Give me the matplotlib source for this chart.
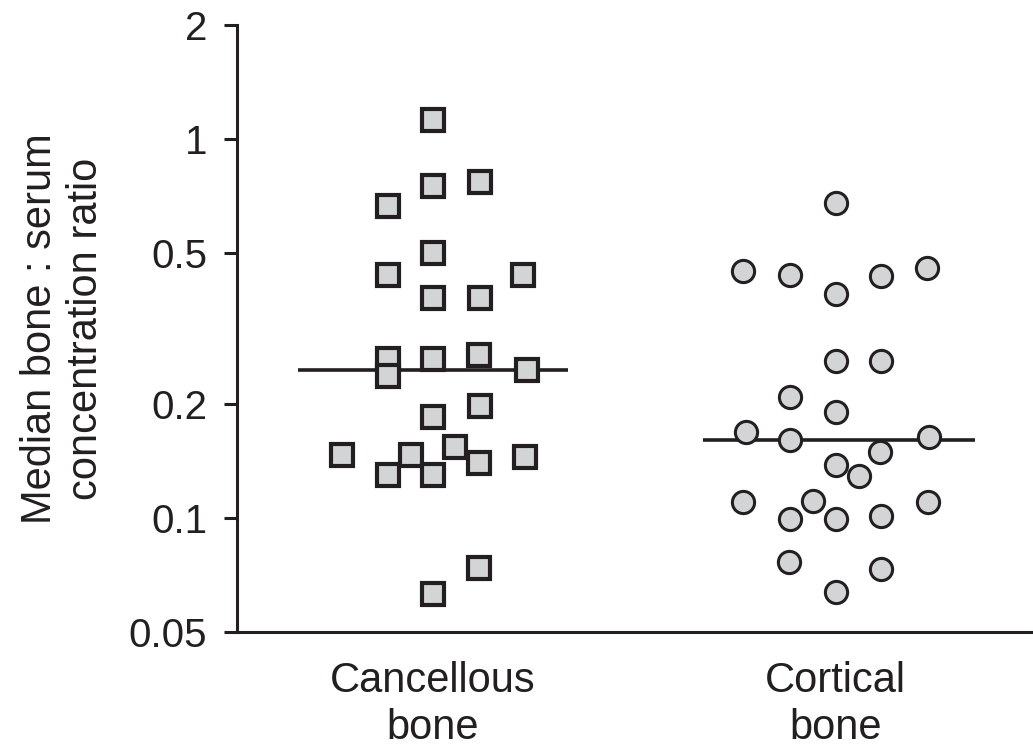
import numpy as np
import matplotlib
matplotlib.use("Agg")
import matplotlib.pyplot as plt
from matplotlib.ticker import NullLocator

plt.rcParams['font.family'] = ['Liberation Sans', 'DejaVu Sans']

# bone : serum ratios, one entry per specimen
cancellous_ratio = [1.12, 0.751, 0.770, 0.665, 0.501, 0.437, 0.437, 0.380, 0.380,
                    0.263, 0.237, 0.262, 0.269, 0.246, 0.185, 0.197,
                    0.147, 0.147, 0.154, 0.140, 0.145, 0.130, 0.130, 0.0739, 0.0631]
cancellous_jitter = [0.0, 0.0, 0.118, -0.112, 0.0, -0.112, 0.225, 0.0, 0.118,
                     -0.112, -0.112, 0.0, 0.115, 0.235, 0.0, 0.118,
                     -0.226, -0.055, 0.055, 0.115, 0.230, -0.112, 0.0, 0.115, 0.0]

cortical_ratio = [0.679, 0.449, 0.438, 0.390, 0.436, 0.457, 0.260, 0.259,
                  0.208, 0.190, 0.169, 0.161, 0.164, 0.149, 0.138, 0.129,
                  0.110, 0.111, 0.0993, 0.0995, 0.101, 0.110, 0.0767, 0.0733, 0.0636]
cortical_jitter = [0.0, -0.231, -0.114, 0.0, 0.112, 0.227, 0.0, 0.112,
                   -0.114, 0.0, -0.222, -0.114, 0.232, 0.110, 0.0, 0.057,
                   -0.231, -0.057, -0.114, 0.0, 0.112, 0.229, -0.116, 0.112, 0.0]

groups = ["Cancellous\nbone", "Cortical\nbone"]
y_ticks = [0.05, 0.1, 0.2, 0.5, 1, 2]
y_tick_labels = ["0.05", "0.1", "0.2", "0.5", "1", "2"]

edge = "#231f20"
fill = "#d3d4d5"

fig = plt.figure(figsize=(10.33, 7.51), dpi=100)
ax = fig.add_axes([0.2294, 0.1585, 0.7706, 0.8082])

# median bars behind the markers
ax.hlines(np.median(cancellous_ratio), 1 - 0.335, 1 + 0.335, color=edge, lw=2.6, zorder=2)
ax.hlines(np.median(cortical_ratio), 2 - 0.328, 2 + 0.347, color=edge, lw=2.6, zorder=2)

ax.plot(1 + np.array(cancellous_jitter), cancellous_ratio, ls="none", marker="s",
        ms=16.5, mew=3.0, mfc=fill, mec=edge, zorder=3)
ax.plot(2 + np.array(cortical_jitter), cortical_ratio, ls="none", marker="o",
        ms=16, mew=2.2, mfc=fill, mec=edge, zorder=3)

ax.set_yscale("log")
ax.set_ylim(0.05, 2)
ax.set_xlim(0.514, 2.49)
ax.set_yticks(y_ticks)
ax.set_yticklabels(y_tick_labels)
ax.yaxis.set_minor_locator(NullLocator())
ax.set_xticks([1, 2])
ax.set_xticklabels(groups, fontsize=30, linespacing=1.22)

ax.tick_params(axis="y", length=9.5, width=2.2, color=edge, labelsize=29, pad=12, labelcolor=edge)
ax.tick_params(axis="x", length=0, pad=21, labelcolor=edge)

for s in ["top", "right"]:
    ax.spines[s].set_visible(False)
for s in ["left", "bottom"]:
    ax.spines[s].set_linewidth(2.2)
    ax.spines[s].set_color(edge)

ax.set_ylabel("Median bone : serum\nconcentration ratio", fontsize=30, color=edge,
              linespacing=1.2, labelpad=16)

fig.savefig("out.png", dpi=100)
